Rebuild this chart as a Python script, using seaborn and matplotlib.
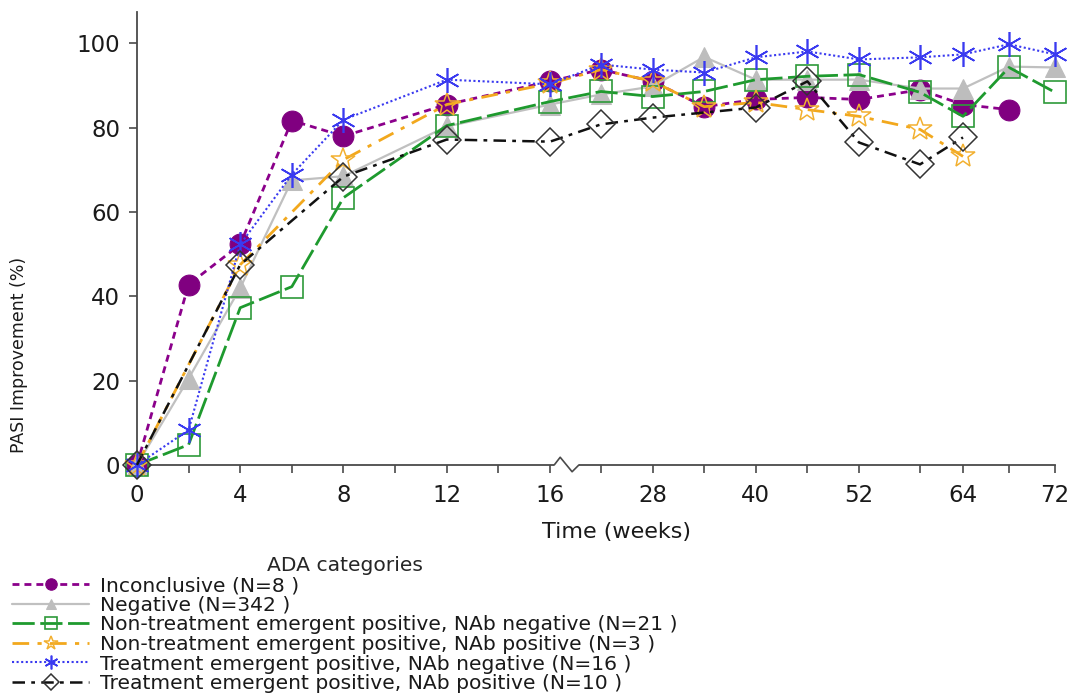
import numpy as np
import pandas as pd
import matplotlib
matplotlib.use("Agg")
import matplotlib.pyplot as plt
import seaborn as sns

# ---------------- data ----------------
weeks_full = [0, 2, 4, 6, 8, 12, 16, 22, 28, 34, 40, 46, 52, 58, 64, 68, 72]

inconclusive_weeks = [0, 2, 4, 6, 8, 12, 16, 22, 28, 34, 40, 46, 52, 58, 64, 68]
inconclusive = [0, 42.8, 52.3, 81.7, 78.0, 85.5, 91.0, 93.8, 91.0, 85.0, 86.7, 87.2, 86.7, 89.0, 85.5, 84.3]

negative = [0, 20.5, 42.0, 67.5, 68.5, 80.3, 85.5, 87.9, 89.8, 96.8, 91.4, 91.4, 91.4, 89.3, 89.3, 94.5, 94.3]

nte_nab_neg = [0, 4.8, 37.3, 42.3, 63.4, 80.5, 86.2, 88.6, 87.4, 88.6, 91.4, 92.2, 92.6, 88.4, 82.7, 94.3, 88.4]

nte_nab_pos_weeks = [0, 4, 8, 12, 16, 22, 28, 34, 40, 46, 52, 58, 64]
nte_nab_pos = [0, 47.5, 72.4, 85.5, 90.5, 93.8, 91.0, 85.0, 86.0, 84.3, 82.7, 79.6, 73.2]

te_nab_neg = [0, 8.3, 52.3, 68.9, 81.9, 91.4, 90.3, 95.0, 93.8, 93.1, 96.7, 98.1, 96.2, 96.7, 97.4, 99.8, 97.4]

te_nab_pos_weeks = [0, 4, 8, 12, 16, 22, 28, 40, 46, 52, 58, 64]
te_nab_pos = [0, 47.5, 68.4, 77.2, 76.7, 80.8, 82.4, 84.8, 91.0, 76.5, 71.3, 77.7]

labels = [
    "Inconclusive (N=8 )",
    "Negative (N=342 )",
    "Non-treatment emergent positive, NAb negative (N=21 )",
    "Non-treatment emergent positive, NAb positive (N=3 )",
    "Treatment emergent positive, NAb negative (N=16 )",
    "Treatment emergent positive, NAb positive (N=10 )",
]

major_ticks = [0, 4, 8, 12, 16, 28, 40, 52, 64, 72]
minor_ticks = [2, 6, 10, 14, 22, 34, 46, 58, 68]
y_ticks = [0, 20, 40, 60, 80, 100]

series = [
    (labels[0], inconclusive_weeks, inconclusive),
    (labels[1], weeks_full, negative),
    (labels[2], weeks_full, nte_nab_neg),
    (labels[3], nte_nab_pos_weeks, nte_nab_pos),
    (labels[4], weeks_full, te_nab_neg),
    (labels[5], te_nab_pos_weeks, te_nab_pos),
]
df = pd.concat(
    [pd.DataFrame({"week": w, "pasi": v, "group": lab}) for lab, w, v in series],
    ignore_index=True,
)

# ---------------- styles ----------------
styles = {
    labels[0]: dict(color="#8B008B", marker="o", markersize=15, mfc="#800080", mec="#800080",
                    linestyle=(0, (2.5, 1.8)), linewidth=2.0),
    labels[1]: dict(color="#C0C0C0", marker="^", markersize=14, mfc="#BDBDBD", mec="#BDBDBD",
                    linestyle="-", linewidth=1.6),
    labels[2]: dict(color="#1E9A2E", marker="s", markersize=16, mfc="none", mec="#2E9A3A",
                    mew=1.2, linestyle=(0, (8, 2)), linewidth=2.0),
    labels[3]: dict(color="#F2A81D", marker="*", markersize=18, mfc="none", mec="#F2B030",
                    mew=1.1, linestyle=(0, (6, 3, 1.5, 3)), linewidth=2.0),
    labels[4]: dict(color="#3A3AF0", marker=(6, 2, 0), markersize=18, mfc="none", mec="#3A3AF0",
                    mew=1.2, linestyle=(0, (1, 1.2)), linewidth=1.5),
    labels[5]: dict(color="#111111", marker="D", markersize=14, mfc="none", mec="#333333",
                    mew=1.1, linestyle=(0, (5, 2.5, 1.5, 2.5)), linewidth=1.8),
}

# ---------------- broken time axis scale ----------------
_W = np.array([0, 16, 22, 52, 58, 64, 72], dtype=float)
_P = np.array([0, 413, 464, 722, 783, 826, 918], dtype=float)


def _fwd(w):
    w = np.asarray(w, dtype=float)
    out = np.interp(w, _W, _P)
    s0 = (_P[1] - _P[0]) / (_W[1] - _W[0])
    s1 = (_P[-1] - _P[-2]) / (_W[-1] - _W[-2])
    out = np.where(w < _W[0], _P[0] + (w - _W[0]) * s0, out)
    out = np.where(w > _W[-1], _P[-1] + (w - _W[-1]) * s1, out)
    return out


def _inv(p):
    p = np.asarray(p, dtype=float)
    out = np.interp(p, _P, _W)
    s0 = (_W[1] - _W[0]) / (_P[1] - _P[0])
    s1 = (_W[-1] - _W[-2]) / (_P[-1] - _P[-2])
    out = np.where(p < _P[0], _W[0] + (p - _P[0]) * s0, out)
    out = np.where(p > _P[-1], _W[-1] + (p - _P[-1]) * s1, out)
    return out


# ---------------- figure ----------------
sns.set_style("ticks")
plt.rcParams["font.family"] = ["DejaVu Sans"]

fig = plt.figure(figsize=(10.7, 6.95), dpi=100)
ax = fig.add_axes([0.128, 0.331, 0.858, 0.652])
ax.set_xscale("function", functions=(_fwd, _inv))

for lab, _, _ in series:
    sub = df[df["group"] == lab]
    sns.lineplot(data=sub, x="week", y="pasi", ax=ax, errorbar=None, legend=False,
                 label=lab, sort=True, clip_on=False, zorder=3, **styles[lab])

ax.set_xlim(0, 72)
ax.set_ylim(0, 107.5)
ax.set_xticks(major_ticks)
ax.set_xticklabels([str(t) for t in major_ticks])
ax.set_xticks(minor_ticks, minor=True)
ax.set_yticks(y_ticks)

spine_col = "#4a4a4a"
for s in ["top", "right"]:
    ax.spines[s].set_visible(False)
for s in ["left", "bottom"]:
    ax.spines[s].set_color(spine_col)
    ax.spines[s].set_linewidth(1.3)
ax.tick_params(axis="both", which="both", direction="out", length=6, width=1.2,
               color=spine_col, labelsize=16.5, labelcolor="#1a1a1a")
ax.tick_params(axis="x", which="both", pad=8)
ax.tick_params(axis="y", pad=6)

# axis-break zigzag on the time axis
trans = ax.get_xaxis_transform()
ax.plot([16.5, 19.4], [0, 0], transform=trans,
        color="white", lw=3, clip_on=False, zorder=4, solid_capstyle="butt")
ax.plot([16.5, 17.2, 18.6, 19.4], [0, 0.017, -0.015, 0], transform=trans,
        color=spine_col, lw=1.2, clip_on=False, zorder=5)

ax.set_xlabel("Time (weeks)", fontsize=16, color="#1a1a1a")
ax.xaxis.set_label_coords(0.522, -0.125)
ax.xaxis.label.set_va("top")
ax.set_ylabel("PASI Improvement (%)", fontsize=12.5, color="#1a1a1a")
ax.yaxis.set_label_coords(-0.119, 0.243)

handles = ax.get_lines()[:6]
leg = fig.legend(handles=handles, labels=labels, title="ADA categories",
                 loc="upper left", bbox_to_anchor=(0.004, 0.211),
                 frameon=False, fontsize=14.6, title_fontsize=14.6,
                 handlelength=3.8, handletextpad=0.5, labelspacing=0.03,
                 borderaxespad=0.0, borderpad=0.4, markerscale=0.55)
for t in leg.get_texts():
    t.set_color("#1a1a1a")

fig.savefig("out.png", dpi=100)
